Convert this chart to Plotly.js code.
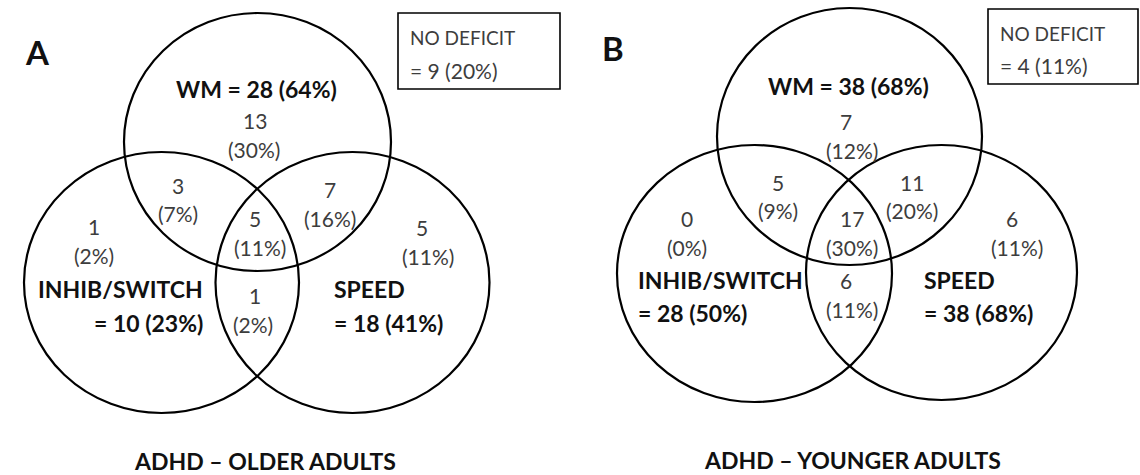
<!DOCTYPE html>
<html>
<head>
<meta charset="utf-8">
<script src="https://cdn.plot.ly/plotly-3.0.1.min.js"></script>
<style>html,body{margin:0;padding:0;background:#fff;}#chart{width:1140px;height:475px;}</style>
</head>
<body>
<div id="chart"></div>
<script>
// ---------------- DATA ----------------
const panelLetters = ['A', 'B'];
const panelTitles = ['ADHD \u2013 OLDER ADULTS', 'ADHD \u2013 YOUNGER ADULTS'];
const setNames = ['WM', 'INHIB/SWITCH', 'SPEED'];
const setCountsA = [28, 10, 18];
const setPctsA = [64, 23, 41];
const setCountsB = [38, 28, 38];
const setPctsB = [68, 50, 68];
// regions: WM only, INHIB only, SPEED only, WM&INHIB, WM&SPEED, all three, INHIB&SPEED
const regionCountsA = [13, 1, 5, 3, 7, 5, 1];
const regionPctsA = [30, 2, 11, 7, 16, 11, 2];
const regionCountsB = [7, 0, 6, 5, 11, 17, 6];
const regionPctsB = [12, 0, 11, 9, 20, 30, 11];
const noDeficitLabel = 'NO DEFICIT';
const noDeficitCounts = [9, 4];
const noDeficitPcts = [20, 11];

// ---------------- LAYOUT GEOMETRY ----------------
const geom = [
  {
    circles: [[257.5, 142, 133.5, 129], [161.5, 282.5, 137.5, 130.5], [352.5, 282.5, 137, 130.5]],
    letter: [37, 52],
    title: [265, 461],
    box: [398, 13, 560, 89], boxText: [408, 37, 70],
    countPos: [[255, 120], [94, 226], [422, 227], [178, 185], [330, 189], [255, 218], [255, 295]],
    pctPos: [[254, 149], [94, 255], [428, 256], [178, 213], [330, 218], [260, 247], [253, 324]],
    wm: [256, 89],
    inhib: {x: 205, anchor: 'right', y: [289, 323]},
    speed: {x: 332, anchor: 'left', y: [289, 323]}
  },
  {
    circles: [[849.5, 136.5, 132.5, 128.5], [754.5, 273.5, 137.5, 128.5], [941.5, 272.5, 135.5, 127.5]],
    letter: [613, 48],
    title: [852, 460],
    box: [988, 9, 1138, 84], boxText: [998, 33, 65],
    countPos: [[846, 121], [687, 218], [1012, 218], [778, 182], [912, 182], [852, 218], [846, 280]],
    pctPos: [[852, 150], [687, 247], [1017, 247], [778, 210], [912, 210], [852, 247], [852, 309]],
    wm: [848, 86],
    inhib: {x: 636, anchor: 'left', y: [280, 313]},
    speed: {x: 922, anchor: 'left', y: [280, 313]}
  }
];

const FONT = 'Lato, "Open Sans", sans-serif';
const normalFont = {family: FONT, size: 21, color: '#3d3d3d'};
const boxFont = {family: FONT, size: 19, color: '#3d3d3d'};
const boldFont = {family: FONT, size: 23, color: '#111', weight: 700};
const letterFont = {family: FONT, size: 33, color: '#111', weight: 700};

const shapes = [];
const annotations = [];
function ann(x, y, text, font, xanchor) {
  annotations.push({x: x, y: y, xref: 'x', yref: 'y', text: text, showarrow: false,
    font: font, xanchor: xanchor || 'center', yanchor: 'middle', align: xanchor || 'center'});
}

const setCounts = [setCountsA, setCountsB];
const setPcts = [setPctsA, setPctsB];
const regionCounts = [regionCountsA, regionCountsB];
const regionPcts = [regionPctsA, regionPctsB];

geom.forEach((g, p) => {
  g.circles.forEach(c => {
    shapes.push({type: 'circle', xref: 'x', yref: 'y', x0: c[0] - c[2], x1: c[0] + c[2],
      y0: c[1] - c[3], y1: c[1] + c[3], line: {color: '#000', width: 2.2}, fillcolor: 'rgba(0,0,0,0)'});
  });
  shapes.push({type: 'rect', xref: 'x', yref: 'y', x0: g.box[0], y0: g.box[1], x1: g.box[2], y1: g.box[3],
    line: {color: '#000', width: 1.6}});
  ann(g.boxText[0], g.boxText[1], noDeficitLabel, boxFont, 'left');
  ann(g.boxText[0], g.boxText[2], '= ' + noDeficitCounts[p] + ' (' + noDeficitPcts[p] + '%)', normalFont, 'left');
  ann(g.letter[0], g.letter[1], '<b>' + panelLetters[p] + '</b>', letterFont);
  ann(g.title[0], g.title[1], '<b>' + panelTitles[p] + '</b>', boldFont);
  ann(g.wm[0], g.wm[1], '<b>' + setNames[0] + ' = ' + setCounts[p][0] + ' (' + setPcts[p][0] + '%)</b>', boldFont);
  ann(g.inhib.x, g.inhib.y[0], '<b>' + setNames[1] + '</b>', boldFont, g.inhib.anchor);
  ann(g.inhib.x, g.inhib.y[1], '<b>= ' + setCounts[p][1] + ' (' + setPcts[p][1] + '%)</b>', boldFont, g.inhib.anchor);
  ann(g.speed.x, g.speed.y[0], '<b>' + setNames[2] + '</b>', boldFont, g.speed.anchor);
  ann(g.speed.x, g.speed.y[1], '<b>= ' + setCounts[p][2] + ' (' + setPcts[p][2] + '%)</b>', boldFont, g.speed.anchor);
  regionCounts[p].forEach((v, i) => {
    ann(g.countPos[i][0], g.countPos[i][1], String(v), normalFont);
    ann(g.pctPos[i][0], g.pctPos[i][1], '(' + regionPcts[p][i] + '%)', normalFont);
  });
});

const layout = {
  width: 1140, height: 475,
  margin: {l: 0, r: 0, t: 0, b: 0, pad: 0},
  paper_bgcolor: '#fff', plot_bgcolor: '#fff',
  showlegend: false,
  xaxis: {range: [0, 1140], visible: false, fixedrange: true},
  yaxis: {range: [475, 0], visible: false, fixedrange: true},
  shapes: shapes,
  annotations: annotations
};

Plotly.newPlot('chart', [{x: [], y: [], type: 'scatter', mode: 'markers', hoverinfo: 'skip'}], layout, {staticPlot: true, displayModeBar: false});
</script>
</body>
</html>
